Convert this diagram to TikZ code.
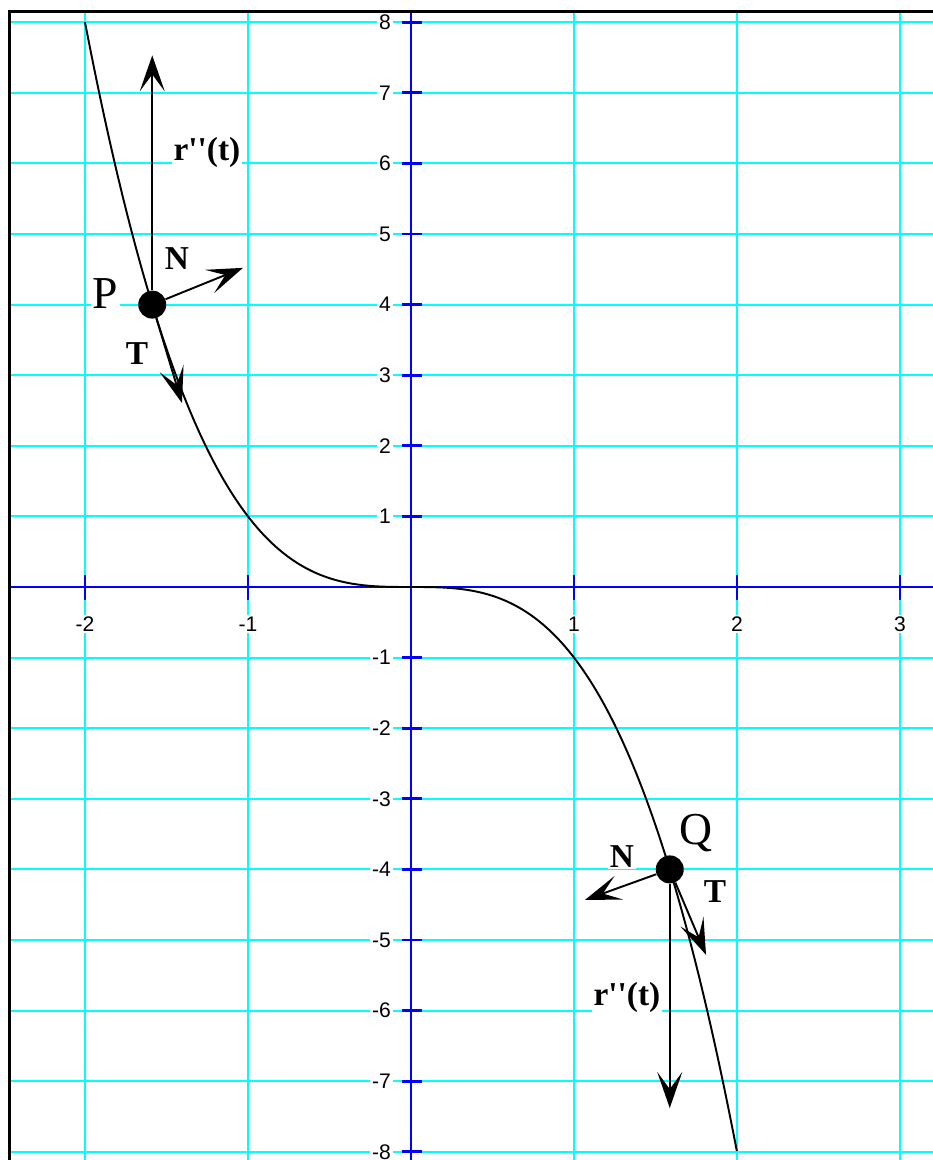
\documentclass[tikz,border=0pt]{standalone}
\usepackage{fontspec}
\setmainfont{Liberation Serif}
\newfontfamily\axisfont{Liberation Sans}
\usetikzlibrary{arrows.meta,positioning}
\definecolor{gridcyan}{RGB}{0,255,255}
\definecolor{axisblue}{RGB}{0,0,255}

\begin{document}
\begin{tikzpicture}[
    x=3.26cm, y=1.412cm,
    frame/.style={black, line width=2.2pt},
    gridline/.style={gridcyan, line width=1.1pt},
    axisline/.style={axisblue, line width=1.7pt},
    tickmark/.style={axisblue, line width=1.6pt},
    ticklabel/.style={
      fill=white, inner sep=1pt,
      font=\axisfont\fontsize{12}{12}\selectfont
    },
    curveline/.style={black, line width=1.1pt},
    vec/.style={
      black, line width=1.1pt,
      -{Stealth[length=0.72cm, width=0.5cm, inset=0.34cm]}
    },
    dot/.style={circle, fill=black, minimum size=0.56cm, inner sep=0pt},
    veclabel/.style={
      fill=white, inner sep=1pt,
      font=\fontsize{19}{19}\selectfont\bfseries
    },
    ptlabel/.style={
      fill=white, inner sep=1pt,
      font=\fontsize{26}{26}\selectfont
    }
  ]
    \useasboundingbox (-8.22cm,-11.46cm) rectangle (10.44cm,11.74cm);

    % Grid
    \foreach \gx in {-2,...,3}
      \draw[gridline] (\gx,-8.2) -- (\gx,8.152);
    \foreach \gy in {-8,...,8}
      \draw[gridline] (-2.463,\gy) -- (3.25,\gy);

    % Axes
    \draw[axisline] (-2.463,0) -- (3.25,0);
    \draw[axisline] (0,-8.2) -- (0,8.152);

    % Frame (left and top)
    \draw[frame] (-2.463,-8.2) |- (3.25,8.152);

    % Ticks and labels
    \foreach \gy in {-8,...,-1,1,2,...,8} {
      \draw[tickmark] (0,\gy) ++(-0.18cm,0) -- ++(0.4cm,0);
      \node[ticklabel, left=0.36cm] (ylab\gy) at (0,\gy) {\gy};
    }
    \foreach \gx in {-2,-1,1,2,3} {
      \draw[tickmark] (\gx,0) ++(0,0.24cm) -- ++(0,-0.5cm);
      \node[ticklabel, below=0.55cm] (xlab\gx) at (\gx,0) {\gx};
    }

    % Curve y = -x^3
    \draw[curveline] plot[domain=-2:2, samples=200, smooth] (\x,{-(\x)*(\x)*(\x)});

    % Points
    \node[dot] (P) at (-1.5874, 4) {};
    \node[dot] (Q) at ( 1.5874,-4) {};

    % Vector tips
    \coordinate (Pacc) at (-1.5874, 7.53);
    \coordinate (PN)   at (-1.031,  4.52);
    \coordinate (PT)   at (-1.405,  2.606);
    \coordinate (Qacc) at ( 1.5874,-7.38);
    \coordinate (QN)   at ( 1.067, -4.433);
    \coordinate (QT)   at ( 1.81,  -5.21);

    % Vectors at P
    \draw[vec] (P) -- (Pacc);
    \draw[vec] (P) -- (PN);
    \draw[vec] (P) -- (PT);

    % Vectors at Q
    \draw[vec] (Q) -- (Qacc);
    \draw[vec] (Q) -- (QN);
    \draw[vec] (Q) -- (QT);

    % Labels
    \node[ptlabel]  (Plab)    at (-1.877, 4.16) {P};
    \node[veclabel] (PaccLab) at (-1.252, 6.16) {r\textquotesingle\textquotesingle(t)};
    \node[veclabel] (PNLab)   at (-1.436, 4.65) {N};
    \node[veclabel] (PTLab)   at (-1.681, 3.31) {T};

    \node[ptlabel]  (Qlab)    at ( 1.748,-3.48) {Q};
    \node[veclabel] (QaccLab) at ( 1.325,-5.82) {r\textquotesingle\textquotesingle(t)};
    \node[veclabel] (QNLab)   at ( 1.294,-3.82) {N};
    \node[veclabel] (QTLab)   at ( 1.865,-4.32) {T};

  \end{tikzpicture}
\end{document}
